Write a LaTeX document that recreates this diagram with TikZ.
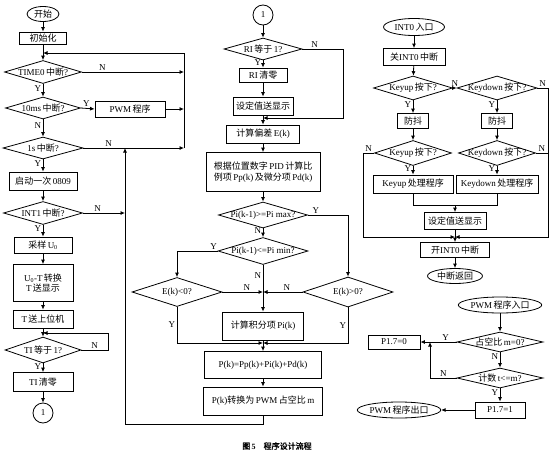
\documentclass[tikz,border=0pt]{standalone}
\usepackage{fontspec}
\setmainfont{Liberation Serif}
\newfontfamily\zhfont[AutoFakeBold=2]{Noto Sans CJK SC}
\newcommand{\zh}[1]{{\zhfont #1}}
\usetikzlibrary{shapes.geometric,arrows.meta,positioning,calc}

\begin{document}
\begin{tikzpicture}[x=1pt,y=-1pt,
    font=\fontsize{9}{10.5}\selectfont,
    line width=0.8pt,
    box/.style={draw, inner sep=1pt, align=center},
    term/.style={ellipse, draw, inner sep=0pt},
    dec/.style={diamond, draw, inner sep=0pt},
    conn/.style={circle, draw, inner sep=0pt, minimum size=20pt},
    arr/.style={-{Latex[length=4.5pt,width=4pt]}},
    lbl/.style={font=\fontsize{9}{10.5}\selectfont, inner sep=1.5pt}]
    \useasboundingbox (0,0) rectangle (554,455);

    % main loop
    \node[term, minimum width=32pt, minimum height=15pt] (start) at (43,14) {\zh{开始}};
    \node[box, minimum width=47pt, minimum height=12pt] (init) at (43,38) {\zh{初始化}};
    \node[dec, minimum width=77pt, minimum height=23pt] (time0) at (43,72) {\makebox[0pt]{TIME0\,\zh{中断}?}};
    \node[dec, minimum width=75pt, minimum height=22pt] (ten) at (43,108) {\makebox[0pt]{10ms\,\zh{中断}?}};
    \node[box, minimum width=70pt, minimum height=16pt] (pwm) at (130,109) {PWM\,\zh{程序}};
    \node[dec, minimum width=80pt, minimum height=22pt] (one) at (43,148) {\makebox[0pt]{1s\,\zh{中断}?}};
    \node[box, minimum width=68pt, minimum height=18pt] (adc) at (43,181) {\zh{启动一次}\,0809};
    \node[dec, minimum width=79pt, minimum height=23pt] (int1) at (43,213) {\makebox[0pt]{INT1\,\zh{中断}?}};
    \node[box, minimum width=58pt, minimum height=16pt] (samp) at (43,245) {\zh{采样}\,U\textsubscript{0}};
    \node[box, minimum width=60pt, minimum height=37pt] (conv) at (43,283) {U\textsubscript{0}-T\,\zh{转换}\\T\,\zh{送显示}};
    \node[box, minimum width=60pt, minimum height=18pt] (send) at (43,319) {T\,\zh{送上位机}};
    \node[dec, minimum width=76pt, minimum height=26pt] (ti) at (43,350) {\makebox[0pt]{TI\,\zh{等于}\,1?}};
    \node[box, minimum width=60pt, minimum height=19pt] (ticlr) at (43,382) {TI\,\zh{清零}};
    \node[conn] (c1) at (43,413) {1};
    \coordinate (j0) at (43,53);
    \coordinate (r0) at (184,53);
    \coordinate (rb) at (125,424);
    \coordinate (j1) at (43,333);
    \coordinate (tn) at (108,333);

    \draw[arr] (start) -- (init);
    \draw[arr] (init) -- (time0);
    \draw[arr] (time0.east) -- node[lbl, above, pos=0.2] {N} (time0.east -| r0);
    \draw[arr] (time0) -- node[lbl, left, pos=0.35] {Y} (ten);
    \draw[arr] (ten.east) -- node[lbl, above, pos=0.4] {Y} (pwm.west);
    \draw[arr] (pwm.east) -- (pwm.east -| r0);
    \draw[arr] (ten) -- node[lbl, left, pos=0.35] {N} (one);
    \draw[arr] (one.east) -- node[lbl, above, pos=0.25] {N} (one.east -| r0);
    \draw[arr] (one.east -| r0) -- (r0) -- (j0);
    \draw[arr] (one) -- node[lbl, left, pos=0.35] {Y} (adc);
    \draw[arr] (adc) -- (int1);
    \draw[arr] (int1.east) -- node[lbl, above, pos=0.35] {N} (int1.east -| rb);
    \draw[arr] (int1) -- node[lbl, left, pos=0.35] {Y} (samp);
    \draw[arr] (samp) -- (conv);
    \draw[arr] (conv) -- (send);
    \draw[arr] (send) -- (ti);
    \draw[arr] (ti.east) -- node[lbl, above, pos=0.5] {N} (ti.east -| tn) -- (tn) -- (j1);
    \draw[arr] (ti) -- node[lbl, left, pos=0.35] {Y} (ticlr);
    \draw[arr] (ticlr) -- (c1);

    % serial and PID
    \node[conn] (c2) at (263,15) {1};
    \node[dec, minimum width=78pt, minimum height=22pt] (ri) at (263,49) {\makebox[0pt]{RI\,\zh{等于}\,1?}};
    \node[box, minimum width=48pt, minimum height=14pt] (riclr) at (263,75) {RI\,\zh{清零}};
    \node[box, minimum width=60pt, minimum height=18pt] (show1) at (263,106) {\zh{设定值送显示}};
    \node[box, minimum width=73pt, minimum height=18pt] (err) at (263,134) {\zh{计算偏差}\,E(k)};
    \node[box, minimum width=114pt, minimum height=39pt] (pid) at (263,172) {\zh{根据位置数字}\,PID\,\zh{计算比}\\\zh{例项}\,Pp(k)\,\zh{及微分项}\,Pd(k)};
    \node[dec, minimum width=89pt, minimum height=26pt] (pmax) at (263,215) {\makebox[0pt]{Pi(k-1)>=Pi max?}};
    \node[dec, minimum width=90pt, minimum height=27pt] (pmin) at (263,251) {\makebox[0pt]{Pi(k-1)<=Pi min?}};
    \node[dec, minimum width=90pt, minimum height=29pt] (eneg) at (177,292) {\makebox[0pt]{E(k)<0?}};
    \node[dec, minimum width=90pt, minimum height=30pt] (epos) at (348,292) {\makebox[0pt]{E(k)>0?}};
    \node[box, minimum width=81pt, minimum height=28pt] (integ) at (263,326) {\zh{计算积分项}\,Pi(k)};
    \node[box, minimum width=117pt, minimum height=27pt] (sum) at (263,365) {P(k)=Pp(k)+Pi(k)+Pd(k)};
    \node[box, minimum width=119pt, minimum height=28pt] (duty) at (263,401) {P(k)\zh{转换为}\,PWM\,\zh{占空比}\,m};
    \coordinate (j2) at (263,118);
    \coordinate (rn) at (343,118);
    \coordinate (j3) at (263,292);
    \coordinate (j4) at (263,343);

    \draw[arr] (c2) -- (ri);
    \draw[arr] (ri.east) -- node[lbl, above, pos=0.3] {N} (ri.east -| rn) -- (rn) -- (j2);
    \draw[arr] (ri) -- node[lbl, left, pos=0.3] {Y} (riclr);
    \draw[arr] (riclr) -- (show1);
    \draw[arr] (show1) -- (err);
    \draw[arr] (err) -- (pid);
    \draw[arr] (pid) -- (pmax);
    \draw[arr] (pmax.east) -- node[lbl, above, pos=0.2] {Y} (pmax.east -| epos) -- (epos);
    \draw[arr] (pmax) -- node[lbl, left, pos=0.3] {N} (pmin);
    \draw[arr] (pmin.west) -- node[lbl, above, pos=0.1] {Y} (pmin.west -| eneg) -- (eneg);
    \draw (pmin) -- node[lbl, left, pos=0.4] {N} (j3);
    \draw[arr] (j3) -- (integ);
    \draw[arr] (eneg.east) -- node[lbl, above, pos=0.6] {N} (j3);
    \draw[arr] (epos.west) -- node[lbl, above, pos=0.4] {N} (j3);
    \draw[arr] (eneg) |- node[lbl, left, pos=0.25] {Y} (j4);
    \draw[arr] (epos) |- node[lbl, left, pos=0.25] {Y} (j4);
    \draw[arr] (integ) -- (sum);
    \draw[arr] (sum) -- (duty);
    \draw[arr] (duty) |- (rb) -- (rb |- one.east);

    % INT0 keys
    \node[term, minimum width=61pt, minimum height=17pt] (int0) at (414,27) {INT0\,\zh{入口}};
    \node[box, minimum width=62pt, minimum height=17pt] (cls) at (414,57) {\zh{关}INT0\,\zh{中断}};
    \node[dec, minimum width=79pt, minimum height=24pt] (kup) at (413,88) {\makebox[0pt]{Keyup\,\zh{按下}?}};
    \node[dec, minimum width=80pt, minimum height=24pt] (kdn) at (497,88) {\makebox[0pt]{Keydown\,\zh{按下}?}};
    \node[box, minimum width=31pt, minimum height=15pt] (db1) at (413,121) {\zh{防抖}};
    \node[box, minimum width=31pt, minimum height=15pt] (db2) at (497,121) {\zh{防抖}};
    \node[dec, minimum width=77pt, minimum height=25pt] (kup2) at (413,153) {\makebox[0pt]{Keyup\,\zh{按下}?}};
    \node[dec, minimum width=77pt, minimum height=25pt] (kdn2) at (497,153) {\makebox[0pt]{Keydown\,\zh{按下}?}};
    \node[box, minimum width=80pt, minimum height=18pt] (hup) at (413,184) {Keyup\,\zh{处理程序}};
    \node[box, minimum width=82pt, minimum height=18pt] (hdn) at (497,184) {Keydown\,\zh{处理程序}};
    \node[box, minimum width=62pt, minimum height=17pt] (show2) at (455,221) {\zh{设定值送显示}};
    \node[box, minimum width=69pt, minimum height=15pt] (open) at (455,250) {\zh{开}INT0\,\zh{中断}};
    \node[term, minimum width=55pt, minimum height=15pt] (ret) at (455,276) {\zh{中断返回}};
    \coordinate (m) at (455,205);
    \coordinate (j5) at (455,237);
    \coordinate (rk) at (548,237);
    \coordinate (lk) at (363,237);

    \draw[arr] (int0) -- (cls);
    \draw[arr] (cls) -- (kup);
    \draw[arr] (kup) -- node[lbl, above] {N} (kdn);
    \draw[arr] (kup) -- node[lbl, left, pos=0.3] {Y} (db1);
    \draw[arr] (kdn) -- node[lbl, left, pos=0.3] {Y} (db2);
    \draw[arr] (db1) -- (kup2);
    \draw[arr] (db2) -- (kdn2);
    \draw[arr] (kup2.west) -- node[lbl, above] {N} (kup2.west -| lk) -- (lk) -- (j5);
    \draw (kdn.east) -- node[lbl, above] {N} (kdn.east -| rk);
    \draw (kdn2.east) -- node[lbl, above] {N} (kdn2.east -| rk);
    \draw[arr] (kdn.east -| rk) -- (rk) -- (j5);
    \draw[arr] (kup2) -- node[lbl, left, pos=0.3] {Y} (hup);
    \draw[arr] (kdn2) -- node[lbl, left, pos=0.3] {Y} (hdn);
    \draw (hup) |- (m);
    \draw (hdn) |- (m);
    \draw[arr] (m) -- (show2);
    \draw[arr] (show2) -- (open);
    \draw[arr] (open) -- (ret);

    % PWM routine
    \node[term, minimum width=78pt, minimum height=16pt] (pin) at (500,305) {PWM\,\zh{程序入口}};
    \node[dec, minimum width=86pt, minimum height=20pt] (mz) at (500,342) {\makebox[0pt]{\zh{占空比}\,m=0?}};
    \node[box, minimum width=52pt, minimum height=14pt] (p0) at (394,342) {P1.7=0};
    \node[dec, minimum width=86pt, minimum height=20pt] (cnt) at (500,378) {\makebox[0pt]{\zh{计数}\,t<=m?}};
    \node[box, minimum width=50pt, minimum height=16pt] (p1) at (500,410) {P1.7=1};
    \node[term, minimum width=82pt, minimum height=16pt] (pout) at (399,410) {PWM\,\zh{程序出口}};
    \coordinate (k) at (430,378);

    \draw[arr] (pin) -- (mz);
    \draw[arr] (mz) -- node[lbl, above, pos=0.3] {Y} (p0);
    \draw[arr] (mz) -- node[lbl, left, pos=0.3] {N} (cnt);
    \draw[arr] (cnt.west) -- node[lbl, above] {N} (k) -- (k |- mz);
    \draw[arr] (cnt) -- node[lbl, left, pos=0.3] {Y} (p1);
    \draw[arr] (p1) -- (pout);

    \node[font=\bfseries\fontsize{8}{9}\selectfont] (cap) at (277,446) {\zh{图}\,5\quad\zh{程序设计流程}};
\end{tikzpicture}
\end{document}
